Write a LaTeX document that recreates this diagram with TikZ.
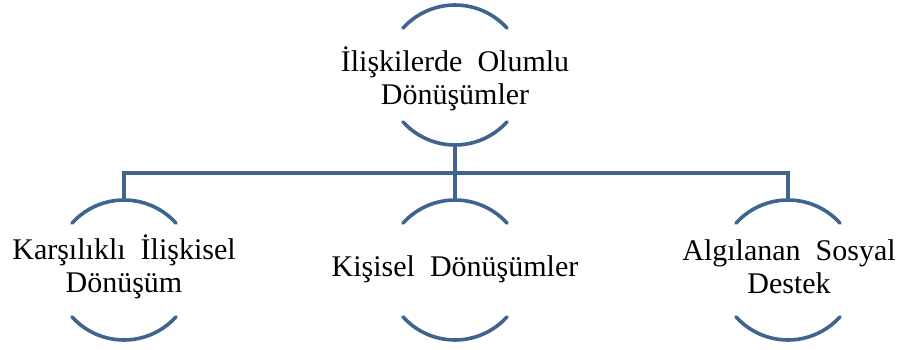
\documentclass[tikz,border=0pt]{standalone}
\usepackage{fontspec}
\setmainfont{Liberation Serif}
\definecolor{ringblue}{HTML}{41648F}
\newcommand{\wgap}{\hspace{0.5em}}
\tikzset{
  label/.style={align=center, inner sep=0pt, font=\fontsize{30}{33}\selectfont, text=black},
  ring/.style={draw=ringblue, line width=3.6pt, line cap=round},
  link/.style={draw=ringblue, line width=3.6pt, line join=miter}
}
% half-rings above and below a ring centre, with named top and bottom points
\newcommand{\halfrings}[2]{%
  \coordinate (#1) at (#2);
  \draw[ring] ([shift={(42:70pt)}]#1) arc[start angle=42, end angle=138, radius=70pt];
  \draw[ring] ([shift={(222:70pt)}]#1) arc[start angle=222, end angle=318, radius=70pt];
  \coordinate (#1-top) at ([yshift=70pt]#1);
  \coordinate (#1-bot) at ([yshift=-70pt]#1);
}
\begin{document}
\begin{tikzpicture}
\useasboundingbox (0,0) rectangle (903pt,349pt);
\fill[white] (0,0) rectangle (903pt,349pt);

\halfrings{rootring}{455pt,274pt}
\halfrings{mutualring}{124pt,79pt}
\halfrings{personalring}{455pt,79pt}
\halfrings{socialring}{788pt,79pt}

\node[label] (root) at (455pt,270pt) {İlişkilerde\wgap Olumlu\\Dönüşümler};
\node[label] (mutual) at (124pt,82pt) {Karşılıklı\wgap İlişkisel\\Dönüşüm};
\node[label] (personal) at (455pt,80pt) {Kişisel\wgap Dönüşümler};
\node[label] (social) at (789pt,82pt) {Algılanan\wgap Sosyal\\Destek};

% connector tree
\coordinate (bus) at (455pt,176pt);
\draw[link] (rootring-bot) -- (bus);
\draw[link] (personalring-top) -- (bus);
\draw[link] (mutualring-top) |- (bus);
\draw[link] (socialring-top) |- (bus);
\end{tikzpicture}
\end{document}
